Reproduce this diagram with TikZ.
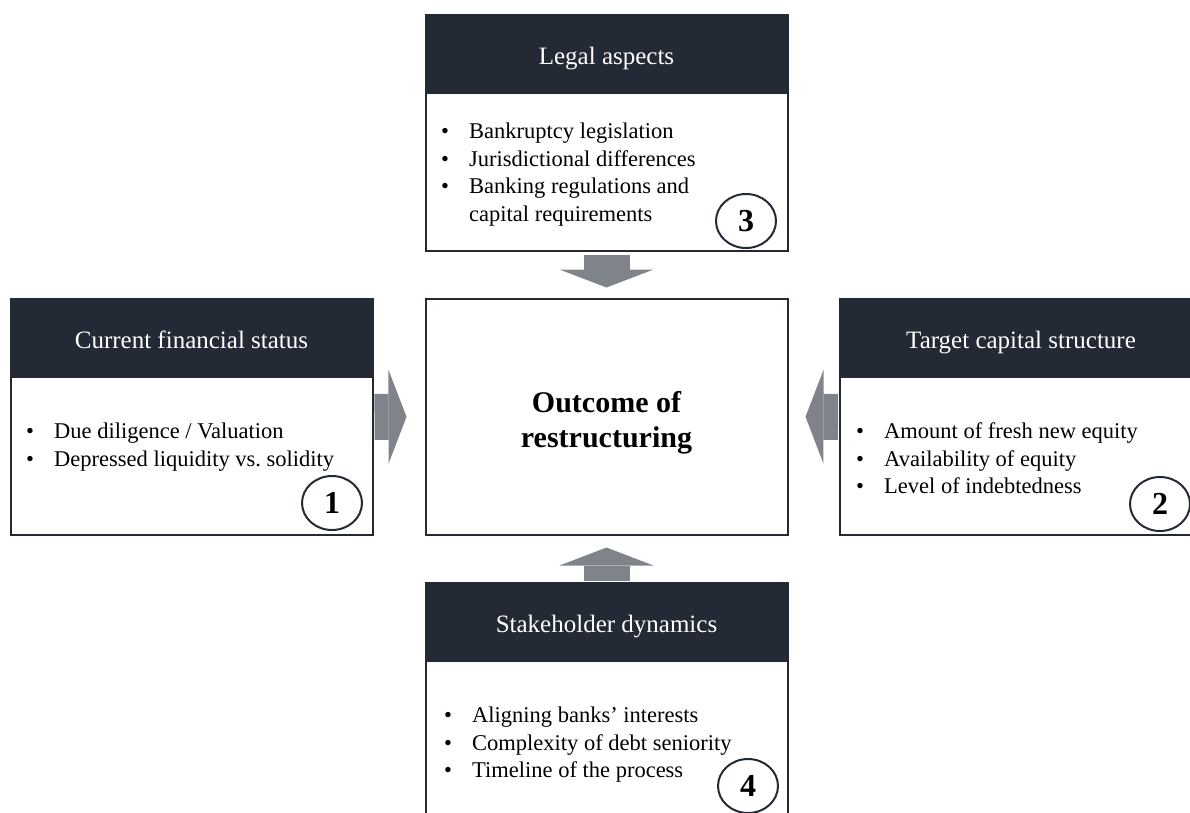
\documentclass[tikz,border=0pt]{standalone}
\usepackage{fontspec}
\setmainfont{Liberation Serif}
\usetikzlibrary{arrows.meta,shapes.geometric}

\definecolor{headnavy}{HTML}{232A35}
\definecolor{arrowgrey}{HTML}{7F848B}
\newcommand{\bitem}{\makebox[28pt][l]{\textbullet}}

\begin{document}
\begin{tikzpicture}[x=1pt, y=-1pt,
    box/.style={rectangle, draw=headnavy, line width=2pt, fill=white, minimum width=362pt, minimum height=236pt, inner sep=0pt},
    head/.style={rectangle, draw=headnavy, line width=2pt, fill=headnavy, text=white, minimum width=362pt, minimum height=78pt, anchor=north, inner sep=0pt, text height=20pt, text depth=0pt, font=\fontsize{25}{28}\selectfont},
    items/.style={anchor=west, align=left, inner sep=0pt, font=\fontsize{22.5}{27.5}\selectfont},
    num/.style={ellipse, draw=headnavy, line width=2pt, minimum width=60pt, minimum height=54pt, inner sep=0pt, font=\fontsize{32}{32}\selectfont\bfseries},
    bigarrow/.style={draw=arrowgrey, line width=46pt, -{Triangle[length=18pt, width=94pt, line width=0pt]}}]
  \clip (0,0) rectangle (1190,812);

  % centre
  \node[box] (outcome) at (606.5,416.5) {};
  \node[align=center, font=\fontsize{30}{35}\selectfont\bfseries] (outcome-text) at (606.5,422.5) {Outcome of\\restructuring};

  % 1 current financial status
  \node[box] (status) at (191.5,417) {};
  \node[head] (status-head) at (status.north) {Current financial status};
  \node[items] (status-list) at (26,447) {\bitem Due diligence / Valuation\\ \bitem Depressed liquidity vs.\ solidity};
  \node[num] (n1) at (332,503) {1};

  % 2 target capital structure
  \node[box] (target) at (1021,417) {};
  \node[head] (target-head) at (target.north) {Target capital structure};
  \node[items] (target-list) at (856,458.5) {\bitem Amount of fresh new equity\\ \bitem Availability of equity\\ \bitem Level of indebtedness};
  \node[num] (n2) at (1160,504) {2};

  % 3 legal aspects
  \node[box] (legal) at (606.5,133) {};
  \node[head] (legal-head) at (legal.north) {Legal aspects};
  \node[items] (legal-list) at (441,174.5) {\bitem Bankruptcy legislation\\ \bitem Jurisdictional differences\\ \bitem Banking regulations and\\ \hspace*{28pt}capital requirements};
  \node[num] (n3) at (746,221) {3};

  % 4 stakeholder dynamics
  \node[box] (stake) at (606.5,701) {};
  \node[head] (stake-head) at (stake.north) {Stakeholder dynamics};
  \node[items] (stake-list) at (444,745) {\bitem Aligning banks' interests\\ \bitem Complexity of debt seniority\\ \bitem Timeline of the process};
  \node[num] (n4) at (748,786) {4};

  \draw[bigarrow, shorten <=1pt, shorten >=18pt] (status) -- (outcome);
  \draw[bigarrow, shorten <=1pt, shorten >=17pt] (target) -- (outcome);
  \draw[bigarrow, shorten <=3pt, shorten >=10pt] (legal) -- (outcome);
  \draw[bigarrow, shorten <=1pt, shorten >=12pt] (stake) -- (outcome);
\end{tikzpicture}
\end{document}
